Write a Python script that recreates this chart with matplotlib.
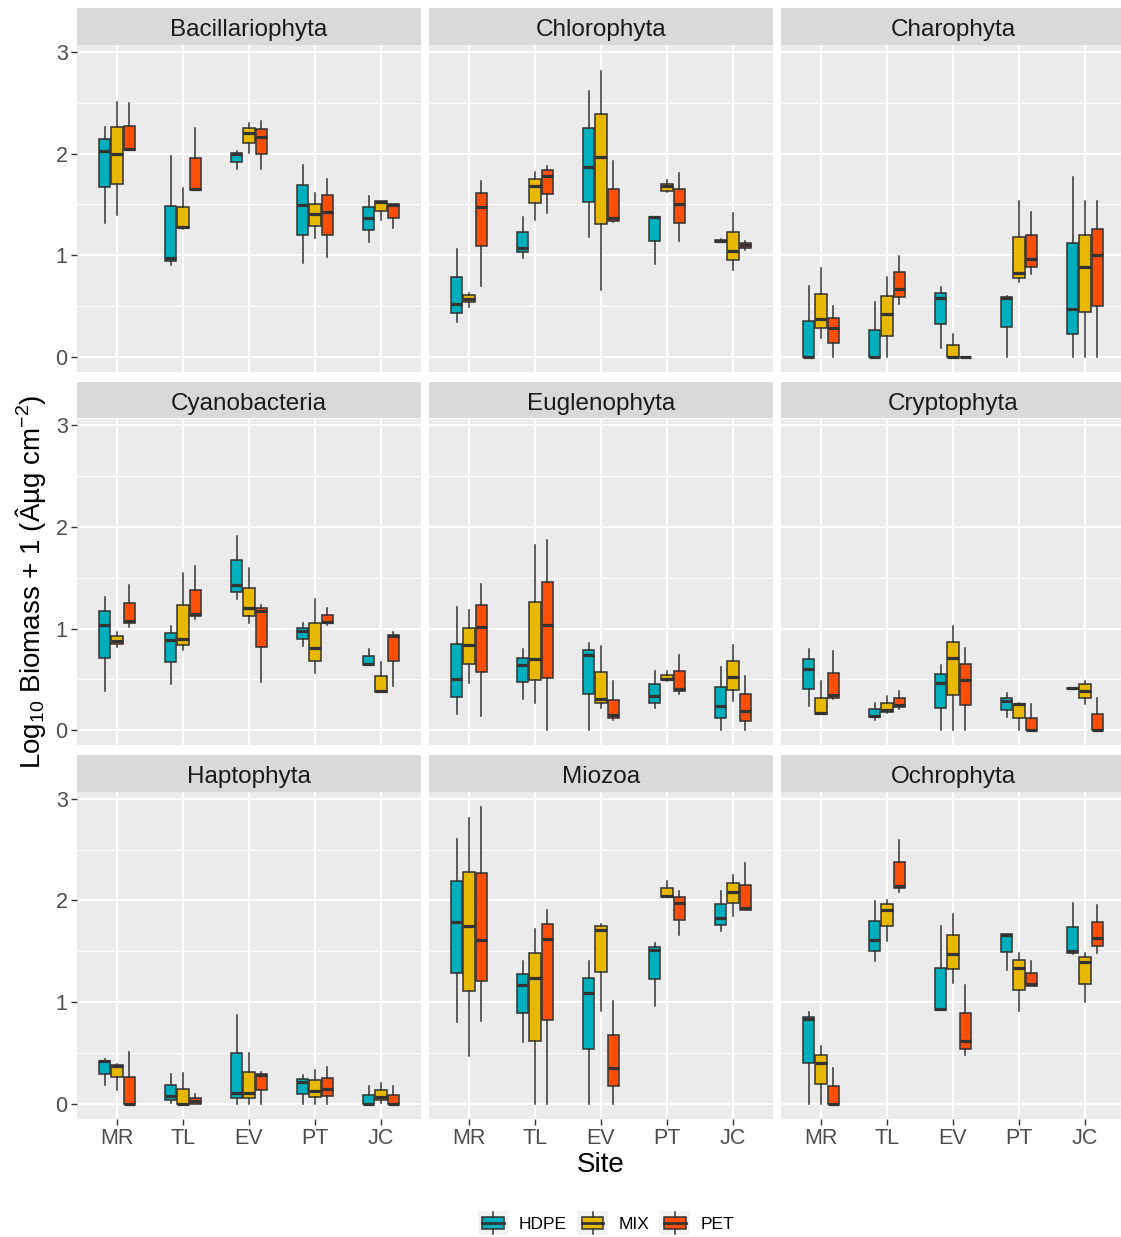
import matplotlib
matplotlib.use("Agg")
import matplotlib.pyplot as plt
from matplotlib.patches import Rectangle, Patch
from matplotlib.lines import Line2D
from matplotlib.legend_handler import HandlerBase

plt.rcParams['font.family'] = ['Liberation Sans', 'DejaVu Sans']
plt.rcParams['mathtext.fontset'] = 'custom'
plt.rcParams['mathtext.rm'] = 'Liberation Sans'
plt.rcParams['mathtext.it'] = 'Liberation Sans:italic'
narrow = ['Liberation Sans Narrow', 'Liberation Sans', 'DejaVu Sans']

sites = ["MR", "TL", "EV", "PT", "JC"]
groups = ["HDPE", "MIX", "PET"]
colors = ["#00AFBB", "#E7B800", "#FC4E07"]
phyla = ["Bacillariophyta", "Chlorophyta", "Charophyta",
         "Cyanobacteria", "Euglenophyta", "Cryptophyta",
         "Haptophyta", "Miozoa", "Ochrophyta"]

# each entry per site: (lower whisker, q1, median, q3, upper whisker)
bac_hdpe = [(1.32, 1.67, 2.03, 2.14, 2.26), (0.90, 0.94, 0.97, 1.48, 1.98), (1.85, 1.92, 2.00, 2.01, 2.03),
            (0.92, 1.20, 1.49, 1.69, 1.89), (1.13, 1.25, 1.37, 1.47, 1.58)]
bac_mix = [(1.40, 1.70, 2.00, 2.26, 2.51), (1.26, 1.27, 1.28, 1.47, 1.66), (2.01, 2.10, 2.20, 2.25, 2.30),
           (1.17, 1.29, 1.41, 1.50, 1.61), (1.35, 1.44, 1.52, 1.53, 1.53)]
bac_pet = [(2.04, 2.04, 2.05, 2.27, 2.50), (1.64, 1.64, 1.65, 1.96, 2.25), (1.85, 2.00, 2.16, 2.24, 2.32),
           (0.98, 1.20, 1.43, 1.59, 1.75), (1.27, 1.37, 1.49, 1.50, 1.50)]

chl_hdpe = [(0.34, 0.43, 0.52, 0.79, 1.06), (0.97, 1.03, 1.07, 1.23, 1.38), (1.18, 1.52, 1.87, 2.25, 2.62),
            (0.91, 1.14, 1.38, 1.38, 1.38), (1.13, 1.13, 1.14, 1.15, 1.16)]
chl_mix = [(0.49, 0.54, 0.57, 0.61, 0.63), (1.35, 1.51, 1.68, 1.75, 1.82), (0.66, 1.31, 1.97, 2.39, 2.81),
           (1.62, 1.63, 1.68, 1.70, 1.74), (0.86, 0.95, 1.04, 1.23, 1.42)]
chl_pet = [(0.70, 1.09, 1.47, 1.61, 1.73), (1.42, 1.60, 1.78, 1.84, 1.88), (1.33, 1.34, 1.37, 1.65, 1.93),
           (1.14, 1.32, 1.50, 1.65, 1.81), (1.05, 1.07, 1.10, 1.12, 1.14)]

cha_hdpe = [(0.0, 0.0, 0.0, 0.35, 0.70), (0.0, 0.0, 0.0, 0.27, 0.54), (0.085, 0.32, 0.58, 0.63, 0.69),
            (0.0, 0.29, 0.58, 0.59, 0.60), (0.0, 0.23, 0.47, 1.12, 1.77)]
cha_mix = [(0.19, 0.28, 0.37, 0.62, 0.875), (0.0, 0.21, 0.42, 0.60, 0.79), (0.0, 0.0, 0.0, 0.12, 0.23),
           (0.74, 0.78, 0.83, 1.18, 1.53), (0.0, 0.44, 0.88, 1.20, 1.53)]
cha_pet = [(0.0, 0.135, 0.28, 0.385, 0.50), (0.52, 0.59, 0.67, 0.84, 0.99), (0.0, 0.0, 0.0, 0.0, 0.0),
           (0.82, 0.88, 0.96, 1.20, 1.43), (0.0, 0.50, 1.00, 1.26, 1.53)]

cya_hdpe = [(0.39, 0.71, 1.04, 1.17, 1.31), (0.45, 0.67, 0.89, 0.96, 1.03), (1.29, 1.36, 1.43, 1.67, 1.91),
            (0.83, 0.90, 0.98, 1.01, 1.05), (0.64, 0.64, 0.65, 0.73, 0.80)]
cya_mix = [(0.82, 0.85, 0.88, 0.93, 0.97), (0.79, 0.84, 0.90, 1.23, 1.55), (1.05, 1.12, 1.20, 1.40, 1.60),
           (0.56, 0.68, 0.81, 1.05, 1.29), (0.38, 0.38, 0.39, 0.53, 0.67)]
cya_pet = [(1.02, 1.05, 1.07, 1.25, 1.43), (1.09, 1.12, 1.14, 1.38, 1.62), (0.47, 0.82, 1.17, 1.20, 1.23),
           (1.04, 1.05, 1.06, 1.13, 1.20), (0.44, 0.68, 0.93, 0.94, 0.97)]

eug_hdpe = [(0.16, 0.33, 0.50, 0.85, 1.21), (0.31, 0.47, 0.64, 0.71, 0.80), (0.0, 0.36, 0.74, 0.79, 0.86),
            (0.22, 0.27, 0.34, 0.45, 0.58), (0.0, 0.12, 0.24, 0.43, 0.62)]
eug_mix = [(0.46, 0.65, 0.84, 1.01, 1.18), (0.27, 0.49, 0.70, 1.26, 1.82), (0.22, 0.27, 0.31, 0.57, 0.83),
           (0.48, 0.49, 0.50, 0.54, 0.58), (0.29, 0.40, 0.52, 0.68, 0.84)]
eug_pet = [(0.14, 0.57, 1.02, 1.23, 1.44), (0.0, 0.51, 1.04, 1.46, 1.87), (0.10, 0.12, 0.15, 0.30, 0.48),
           (0.36, 0.39, 0.41, 0.58, 0.74), (0.0, 0.095, 0.19, 0.36, 0.53)]

cry_hdpe = [(0.24, 0.41, 0.60, 0.70, 0.80), (0.10, 0.13, 0.14, 0.21, 0.27), (0.0, 0.22, 0.46, 0.55, 0.64),
            (0.13, 0.20, 0.29, 0.32, 0.37), (0.41, 0.41, 0.415, 0.42, 0.42)]
cry_mix = [(0.16, 0.16, 0.17, 0.32, 0.48), (0.17, 0.175, 0.195, 0.27, 0.34), (0.0, 0.35, 0.71, 0.87, 1.03),
           (0.0, 0.125, 0.255, 0.26, 0.27), (0.26, 0.32, 0.39, 0.45, 0.48)]
cry_pet = [(0.31, 0.32, 0.35, 0.56, 0.78), (0.21, 0.225, 0.25, 0.32, 0.39), (0.0, 0.245, 0.49, 0.65, 0.81),
           (0.0, 0.0, 0.0, 0.125, 0.255), (0.0, 0.0, 0.0, 0.16, 0.32)]

hap_hdpe = [(0.185, 0.29, 0.42, 0.425, 0.44), (0.007, 0.036, 0.08, 0.18, 0.29), (0.0, 0.056, 0.11, 0.495, 0.87),
            (0.0, 0.10, 0.21, 0.24, 0.28), (0.0, 0.0, 0.0, 0.086, 0.17)]
hap_mix = [(0.14, 0.26, 0.375, 0.385, 0.39), (0.0, 0.0, 0.0, 0.15, 0.30), (0.0, 0.056, 0.11, 0.31, 0.50),
           (0.0, 0.07, 0.13, 0.23, 0.33), (0.007, 0.04, 0.07, 0.14, 0.20)]
hap_pet = [(0.0, 0.0, 0.0, 0.26, 0.505), (0.0, 0.0, 0.023, 0.053, 0.096), (0.0, 0.135, 0.28, 0.29, 0.31),
           (0.0, 0.076, 0.15, 0.25, 0.36), (0.0, 0.0, 0.0, 0.086, 0.175)]

mio_hdpe = [(0.80, 1.29, 1.79, 2.19, 2.60), (0.61, 0.89, 1.17, 1.28, 1.40), (0.0, 0.54, 1.09, 1.24, 1.40),
            (0.96, 1.23, 1.51, 1.54, 1.58), (1.70, 1.76, 1.83, 1.96, 2.09)]
mio_mix = [(0.47, 1.11, 1.75, 2.28, 2.81), (0.0, 0.62, 1.24, 1.48, 1.72), (0.91, 1.30, 1.71, 1.75, 1.77),
           (2.03, 2.03, 2.04, 2.12, 2.19), (1.85, 1.97, 2.08, 2.17, 2.25)]
mio_pet = [(0.81, 1.21, 1.61, 2.27, 2.92), (0.0, 0.82, 1.62, 1.77, 1.91), (0.0, 0.17, 0.35, 0.68, 1.01),
           (1.66, 1.81, 1.97, 2.03, 2.09), (1.91, 1.91, 1.93, 2.15, 2.37)]

och_hdpe = [(0.0, 0.40, 0.83, 0.85, 0.90), (1.40, 1.50, 1.61, 1.80, 1.99), (0.92, 0.92, 0.93, 1.34, 1.75),
            (1.32, 1.49, 1.66, 1.67, 1.67), (1.47, 1.48, 1.50, 1.74, 1.97)]
och_mix = [(0.0, 0.195, 0.40, 0.48, 0.57), (1.60, 1.75, 1.91, 1.96, 2.00), (1.19, 1.33, 1.47, 1.66, 1.87),
           (0.91, 1.12, 1.34, 1.41, 1.48), (1.00, 1.18, 1.39, 1.44, 1.48)]
och_pet = [(0.0, 0.0, 0.0, 0.175, 0.35), (2.08, 2.12, 2.14, 2.38, 2.59), (0.475, 0.54, 0.62, 0.89, 1.165),
           (1.16, 1.16, 1.18, 1.29, 1.40), (1.48, 1.55, 1.63, 1.79, 1.95)]

panel_data = {
    "Bacillariophyta": [bac_hdpe, bac_mix, bac_pet],
    "Chlorophyta": [chl_hdpe, chl_mix, chl_pet],
    "Charophyta": [cha_hdpe, cha_mix, cha_pet],
    "Cyanobacteria": [cya_hdpe, cya_mix, cya_pet],
    "Euglenophyta": [eug_hdpe, eug_mix, eug_pet],
    "Cryptophyta": [cry_hdpe, cry_mix, cry_pet],
    "Haptophyta": [hap_hdpe, hap_mix, hap_pet],
    "Miozoa": [mio_hdpe, mio_mix, mio_pet],
    "Ochrophyta": [och_hdpe, och_mix, och_pet],
}

W, H = 1121, 1237
fig = plt.figure(figsize=(W / 100, H / 100), dpi=100)
fig.patch.set_facecolor("white")

col_left = [77.4, 429.4, 781.4]
panel_w = 343.2
row_top = [45.2, 418.5, 792.0]
panel_h = 326.6
strip_h = 37

edge = "#333333"
offsets = [-0.1875, 0.0, 0.1875]

for k, name in enumerate(phyla):
    r, c = divmod(k, 3)
    ax = fig.add_axes([col_left[c] / W, 1 - (row_top[r] + panel_h) / H, panel_w / W, panel_h / H])
    ax.set_facecolor("#EBEBEB")
    for s in ax.spines.values():
        s.set_visible(False)
    ax.set_xlim(0.4, 5.6)
    ax.set_ylim(-0.146, 3.066)
    ax.set_yticks([0, 1, 2, 3])
    ax.set_yticks([0.5, 1.5, 2.5], minor=True)
    ax.set_xticks(range(1, 6))
    ax.grid(True, which="major", color="white", lw=1.4)
    ax.grid(True, which="minor", axis="y", color="white", lw=0.7)
    ax.set_axisbelow(True)
    ax.tick_params(which="minor", length=0)
    ax.tick_params(which="major", color=edge, length=4, width=1.0,
                   labelcolor="#4D4D4D", labelsize=15.5, pad=3)
    if r == 2:
        ax.set_xticklabels(sites, family=narrow)
    else:
        ax.set_xticklabels([])
        ax.tick_params(axis="x", length=0)
    if c != 0:
        ax.set_yticklabels([])
        ax.tick_params(axis="y", length=0)
    else:
        ax.set_yticklabels(["0", "1", "2", "3"], family=narrow)

    for g, series in enumerate(panel_data[name]):
        stats = []
        for lo, q1, med, q3, hi in series:
            stats.append({"whislo": lo, "q1": q1, "med": med, "q3": q3,
                          "whishi": hi, "fliers": []})
        pos = [i + 1 + offsets[g] for i in range(len(sites))]
        ax.bxp(stats, positions=pos, widths=0.167, patch_artist=True,
               showcaps=False, showfliers=False,
               boxprops=dict(facecolor=colors[g], edgecolor=edge, lw=1.1),
               whiskerprops=dict(color=edge, lw=1.1),
               medianprops=dict(color=edge, lw=2.3, solid_capstyle="butt"),
               manage_ticks=False)

    # strip
    sax = fig.add_axes([col_left[c] / W, 1 - row_top[r] / H, panel_w / W, strip_h / H])
    sax.set_facecolor("#D9D9D9")
    sax.set_xticks([])
    sax.set_yticks([])
    for s in sax.spines.values():
        s.set_visible(False)
    sax.text(0.5, 0.47, name, ha="center", va="center_baseline", fontsize=17.5,
             color="#1A1A1A", transform=sax.transAxes)

fig.text(31 / W, 1 - 582 / H, r"Log$_{10}$ Biomass + 1 (Âµg cm$^{-2}$)",
         rotation=90, ha="center", va="center", fontsize=20, color="black")
fig.text(601 / W, 1 - 1165 / H, "Site", ha="center", va="center",
         fontsize=20, color="black")


class BoxHandler(HandlerBase):
    def create_artists(self, legend, orig_handle, xdescent, ydescent,
                       width, height, fontsize, trans):
        fc = orig_handle.get_facecolor()
        x0, y0 = -xdescent, -ydescent
        bg = Rectangle((x0, y0), width, height, facecolor="#F2F2F2",
                       edgecolor="none", transform=trans)
        bw = width * 0.72
        bx = x0 + (width - bw) / 2
        box = Rectangle((bx, y0 + height * 0.27), bw, height * 0.46,
                        facecolor=fc, edgecolor=edge, lw=1.1, transform=trans)
        med = Line2D([bx, bx + bw], [y0 + height / 2] * 2, color=edge,
                     lw=2.0, transform=trans)
        cx = x0 + width / 2
        w1 = Line2D([cx, cx], [y0 + height * 0.05, y0 + height * 0.27],
                    color=edge, lw=1.1, transform=trans)
        w2 = Line2D([cx, cx], [y0 + height * 0.73, y0 + height * 0.95],
                    color=edge, lw=1.1, transform=trans)
        return [bg, box, med, w1, w2]


handles = [Patch(facecolor=col, edgecolor=edge) for col in colors]
fig.legend(handles, groups, loc="center", bbox_to_anchor=(606 / W, 1 - 1223 / H),
           ncol=3, frameon=False, prop={"family": narrow, "size": 12.5},
           handlelength=1.75, handleheight=1.75,
           handletextpad=0.6, columnspacing=0.6,
           handler_map={Patch: BoxHandler()})

fig.savefig("out.png", dpi=100)
